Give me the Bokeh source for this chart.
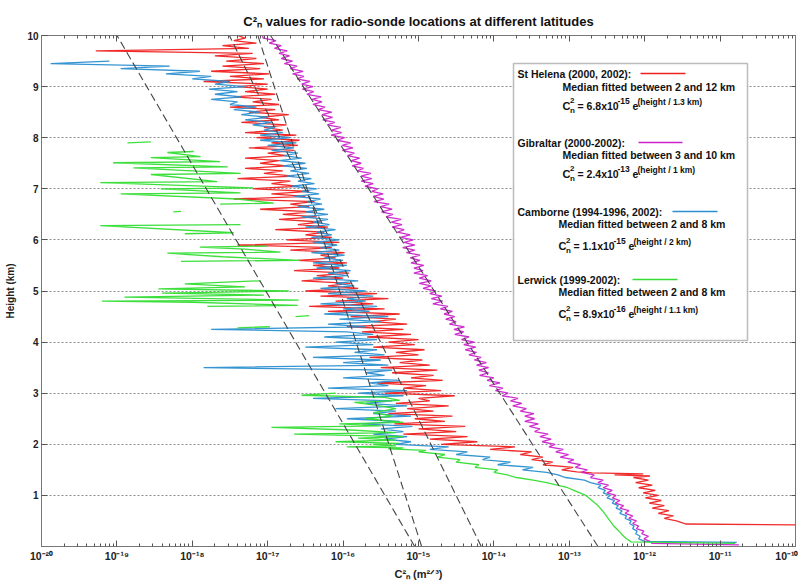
import numpy as np
from bokeh.plotting import figure
from bokeh.models import (Range1d, LogAxis, LinearAxis, FixedTicker,
                          CustomJSTickFormatter, Label, BoxAnnotation)
from bokeh.embed import file_html
from bokeh.resources import INLINE

NaN = float("nan")

# ---------------- data: log10 of Cn^2 (m^-2/3) against height (km) ----------------
# St Helena (red)
red_low_h = [0.42, 0.44, 0.50, 0.55, 0.60, 0.65, 0.70, 0.75, 0.80, 0.85,
             0.90, 0.95, 1.00, 1.05, 1.10, 1.15, 1.20, 1.25, 1.30, 1.35,
             1.38, 1.40, 1.42, 1.44, 1.46, 1.50, 1.55, 1.60, 1.65, 1.70,
             1.75, 1.80, 1.85, 1.90, 1.95]
red_low_L = [-9.8, -11.45, -11.58, -11.74, -11.62, -11.82, -11.68, -11.90, -11.74, -11.94,
             -11.78, -11.99, -11.82, -12.02, -11.86, -12.08, -11.90, -12.12, -11.95, -12.15,
             -11.93, -12.40, -12.02, -12.70, -12.90, -13.10, -12.95, -13.35, -13.22, -13.50,
             -13.35, -13.65, -13.50, -14.05, -13.72]
# heights 2.00 ... 10.00 every 0.05 km
red_up_L = [-14.70, -14.22, -14.85, -14.35, -15.20, -14.50, -15.00, -14.38, -15.32, -14.65,
            -15.05, -14.55, -15.40, -14.80, -15.15, -14.60, -15.30, -14.85, -15.00, -14.52,
            -15.45, -14.70, -15.20, -14.90, -15.55, -14.68, -15.10, -14.80, -15.35, -14.75,
            -15.50, -14.85, -15.25, -14.95, -15.65, -15.00, -15.30, -14.92, -15.60, -15.05,
            -15.40, -15.00, -15.68, -15.10, -15.75, -15.20, -15.95, -15.15, -15.60, -15.30,
            -15.90, -15.25, -16.20, -15.45, -16.45, -15.60, -16.10, -15.40, -16.30, -15.55,
            -16.50, -15.80, -16.20, -15.90, -16.55, -16.00, -16.35, -15.92, -16.65, -16.05,
            -16.40, -15.95, -16.60, -16.10, -16.30, -15.98, -16.70, -16.15, -17.40, -16.05,
            -16.75, -16.15, -16.50, -16.25, -16.90, -16.20, -16.60, -16.30, -16.85, -16.35,
            -16.80, -16.40, -17.10, -16.45, -16.70, -16.38, -17.45, -16.50, -16.95, -16.45,
            -17.20, -16.60, -16.95, -16.70, -17.40, -16.65, -17.05, -16.80, -17.30, -16.75,
            -17.10, -16.85, -17.30, -16.75, -17.00, -16.65, -17.25, -16.60, -16.95, -16.58,
            -17.15, -16.62, -17.30, -16.80, -17.05, -16.75, -17.35, -16.85, -17.10, -16.72,
            -17.25, -16.90, -17.50, -16.85, -17.20, -16.95, -17.45, -16.90, -17.30, -17.00,
            -17.40, -17.00, -17.85, -17.05, -17.50, -16.98, -17.75, -17.10, -17.60, -17.05,
            -17.55, -17.15, -17.70, -17.20, -19.28, -17.25, -17.60, -17.15, -17.45, -17.30,
            -17.40]

# Gibraltar (magenta)
mag_low_h = [0.03, 0.06]
mag_low_L = [-10.75, -11.90]
# heights 0.10 ... 10.00 every 0.05 km
mag_up_L = [-11.93, -12.01, -11.95, -12.04, -12.01, -12.11, -12.08, -12.16, -12.11, -12.21,
            -12.16, -12.26, -12.21, -12.33, -12.28, -12.39, -12.33, -12.43, -12.38, -12.50,
            -12.43, -12.55, -12.48, -12.62, -12.55, -12.72, -12.67, -12.84, -12.76, -12.92,
            -12.85, -13.02, -12.94, -13.12, -13.01, -13.18, -13.08, -13.27, -13.19, -13.36,
            -13.24, -13.39, -13.28, -13.46, -13.39, -13.53, -13.41, -13.59, -13.46, -13.59,
            -13.47, -13.65, -13.57, -13.75, -13.63, -13.78, -13.68, -13.89, -13.81, -13.98,
            -13.88, -14.06, -13.92, -14.09, -14.00, -14.19, -14.07, -14.20, -14.07, -14.23,
            -14.10, -14.26, -14.17, -14.33, -14.23, -14.38, -14.24, -14.40, -14.26, -14.43,
            -14.33, -14.52, -14.40, -14.53, -14.39, -14.59, -14.50, -14.64, -14.52, -14.66,
            -14.55, -14.71, -14.61, -14.81, -14.68, -14.83, -14.69, -14.85, -14.77, -14.94,
            -14.83, -14.99, -14.83, -14.99, -14.88, -15.06, -14.94, -15.06, -14.93, -15.10,
            -14.98, -15.11, -14.98, -15.16, -15.05, -15.21, -15.05, -15.19, -15.07, -15.24,
            -15.11, -15.28, -15.19, -15.35, -15.22, -15.36, -15.23, -15.43, -15.34, -15.49,
            -15.35, -15.50, -15.39, -15.59, -15.46, -15.60, -15.47, -15.62, -15.54, -15.71,
            -15.60, -15.76, -15.62, -15.76, -15.63, -15.81, -15.73, -15.88, -15.76, -15.89,
            -15.78, -15.94, -15.85, -16.01, -15.87, -16.01, -15.90, -16.08, -15.98, -16.16,
            -16.02, -16.15, -16.03, -16.21, -16.11, -16.27, -16.14, -16.28, -16.15, -16.33,
            -16.24, -16.40, -16.28, -16.41, -16.29, -16.48, -16.39, -16.54, -16.40, -16.55,
            -16.44, -16.61, -16.52, -16.67, -16.53, -16.70, -16.61, -16.78, -16.67, -16.82,
            -16.71, -16.85, -16.74, -16.91, -16.82, -16.98, -16.89, -17.06, -17.07]

# Camborne (blue)
blue_low_h = [0.08, 0.10, 0.15, 0.20, 0.25, 0.30, 0.35, 0.40, 0.45, 0.50,
              0.55, 0.60, 0.65, 0.70, 0.75, 0.80, 0.85, 0.90, 0.95, 1.00,
              1.05, 1.10, 1.15, 1.20, 1.25, 1.30, 1.35, 1.40, 1.45, 1.50,
              1.55, 1.60, 1.65, 1.70, 1.75, 1.80, 1.85, 1.90, 1.95]
blue_low_L = [-10.78, -12.00, -12.08, -12.06, -12.12, -12.10, -12.16, -12.14, -12.20, -12.18,
              -12.26, -12.24, -12.33, -12.30, -12.38, -12.35, -12.43, -12.40, -12.50, -12.46,
              -12.55, -12.52, -12.62, -12.58, -12.72, -12.80, -13.05, -13.15, -13.30, -13.62,
              -13.48, -13.95, -13.78, -14.15, -14.05, -14.50, -14.35, -14.85, -14.60]
# heights 2.00 ... 9.50 every 0.05 km
blue_up_L = [-15.30, -15.10, -15.45, -15.15, -15.60, -15.20, -15.50, -15.08, -15.75, -15.25,
             -15.95, -15.10, -15.60, -15.30, -16.10, -15.15, -15.70, -15.35, -16.40, -15.20,
             -15.80, -15.15, -16.20, -15.40, -15.65, -15.25, -16.00, -15.45, -15.70, -15.35,
             -17.85, -15.40, -16.00, -15.50, -16.40, -15.45, -15.85, -15.55, -16.50, -15.60,
             -16.10, -15.55, -16.25, -15.60, -15.95, -17.75, -15.70, -16.20, -15.50, -16.05,
             -15.40, -16.25, -15.65, -16.00, -15.55, -16.30, -15.70, -15.95, -15.60, -16.20,
             -15.70, -16.30, -15.85, -16.10, -15.80, -16.40, -15.95, -16.20, -15.90, -16.35,
             -15.95, -16.40, -16.00, -16.25, -15.98, -16.42, -16.05, -16.30, -16.08, -16.40,
             -16.05, -16.42, -16.15, -16.35, -16.10, -16.50, -16.18, -16.40, -16.20, -16.55,
             -16.20, -16.50, -16.25, -16.60, -16.28, -16.48, -16.30, -16.65, -16.32, -16.55,
             -16.35, -16.68, -16.38, -16.60, -16.42, -16.75, -16.45, -16.70, -16.48, -16.80,
             -16.50, -16.85, -16.55, -16.78, -16.60, -16.95, -16.65, -17.00, -16.62, -17.10,
             -16.70, -17.10, -16.80, -17.05, -16.90, -17.20, -16.95, -17.30, -17.00, -17.35,
             -17.10, -17.45, -17.15, -17.50, -17.40, -17.75, -17.35, -17.70, -17.40, -17.78,
             -17.30, -17.70, -17.50, -18.00, -17.75, -18.35, -17.90, -18.95, -18.30, -19.88,
             -19.10]

# Lerwick (green); NaN marks gaps in the profile
green_h = [0.06, 0.09, 0.15, 0.20, 0.30, 0.40, 0.50, 0.60, 0.70, 0.80,
           0.90, 1.00, 1.05, 1.10, 1.15, 1.20, 1.25, 1.30, 1.35, 1.40,
           1.45, 1.50, 1.55, 1.60, 1.65, 1.70, 1.75, 1.80, 1.85, 1.88,
           1.91, 1.93, 1.95, 1.97, 2.00, 2.02, 2.05, 2.08, 2.12, 2.15,
           2.20, 2.23, 2.28, 2.33, 2.36, 2.40, 2.43, 2.50, 2.55, 2.62,
           2.70, 2.76, 2.82, 2.86, 2.92, 2.96, 3.00,
           NaN, 4.28, 4.30,
           NaN, 4.50, 4.52,
           NaN, 4.70, 4.72, 4.78, 4.80, 4.82, 4.88, 4.92, 4.96, 5.00, 5.04, 5.08, 5.14, 5.20,
           NaN, 5.58, 5.60, 5.67, 5.74, 5.76, 5.82, 5.86, 5.88,
           NaN, 6.12, 6.14, 6.28, 6.30,
           NaN, 6.55, 6.56,
           NaN, 6.70, 6.72, 6.80, 6.90, 6.92, 7.00, 7.02, 7.12, 7.14, 7.28, 7.30, 7.41, 7.43,
           7.51, 7.53, 7.61, 7.63, 7.71, 7.73,
           NaN, 7.90, 7.92]
green_L = [-10.80, -12.18, -12.24, -12.28, -12.34, -12.41, -12.46, -12.51, -12.56, -12.62,
           -12.70, -12.78, -12.86, -12.94, -13.02, -13.16, -13.30, -13.48, -13.70, -13.82,
           -14.00, -13.95, -14.25, -14.20, -14.50, -14.45, -14.75, -14.65, -15.00, -14.90,
           -15.40, -15.20, -15.95, -15.30, -15.60, -15.25, -16.10, -15.30, -15.80, -15.20,
           -16.65, -15.30, -15.90, -16.95, -15.50, -16.05, -15.20, -15.70, -15.35, -15.60,
           -15.30, -15.55, -15.85, -15.25, -15.45, -16.55, -16.10,
           NaN, -17.40, -16.97,
           NaN, -16.63, -16.45,
           NaN, -17.80, -16.60, -18.00, -19.20, -16.59, -18.90, -17.05, -18.40, -16.72, -18.45,
           -17.30, -18.10, -17.10,
           NaN, -18.15, -16.57, -17.60, -18.33, -16.83, -17.30, -17.90, -17.00,
           NaN, -18.10, -17.45, -19.22, -17.36,
           NaN, -18.25, -18.15,
           NaN, -17.63, -16.92, -17.40, -18.95, -17.36, -18.42, -17.19, -19.22, -17.67, -18.55,
           -17.36, -18.78, -17.53, -19.05, -17.63, -18.55, -17.89, -18.33, -17.98,
           NaN, -18.86, -18.55]

# Fitted medians: Cn2 = A * exp(-height / H)
names = ["St Helena (2000, 2002):", "Gibraltar (2000-2002):",
         "Camborne (1994-1996, 2002):", "Lerwick (1999-2002):"]
fit_ranges = ["between 2 and 12 km", "between 3 and 10 km",
              "between 2 and 8 km", "between 2 and 8 km"]
fit_coef = ["6.8", "2.4", "1.1", "8.9"]
fit_exp = ["-15", "-13", "-15", "-16"]
fit_A = [6.8e-15, 2.4e-13, 1.1e-15, 8.9e-16]
fit_H = [1.3, 1.0, 2.0, 1.1]
fit_H_txt = ["1.3", "1", "2", "1.1"]
colors = ["#ee2020", "#cc22cc", "#2a8fd0", "#33dd33"]

x_ticks_exp = list(range(-20, -9))
y_ticks = list(range(1, 11))

title_text = "C\u00b2\u2099 values for radio-sonde locations at different latitudes"
x_label_text = "C\u00b2\u2099 (m\u00b2\u141f\u00b3)"
y_label_text = "Height (km)"

# ---------------- figure ----------------
FONT = "Liberation Sans"


def X(px):  # horizontal pixel of the reference -> data x (annotation placement)
    return 10 ** (-20 + (px - 41) / 75.4)


def Y(py):  # vertical pixel of the reference -> data y
    return (546 - py) / 51.1


p = figure(width=798, height=583, x_axis_type="log",
           x_range=Range1d(1e-20, 1e-10), y_range=Range1d(0, 10),
           output_backend="svg", toolbar_location=None, title=title_text,
           min_border_left=41, min_border_right=3, min_border_top=35,
           min_border_bottom=37)
p.title.align = "center"
p.title.text_font = FONT
p.title.text_font_style = "bold"
p.title.text_font_size = "13px"
p.title.text_color = "#111111"
p.title.standoff = 13
p.outline_line_color = "#777777"
p.background_fill_color = "white"
p.border_fill_color = "white"

major = [10.0 ** e for e in x_ticks_exp]
minor = [k * 10.0 ** e for e in x_ticks_exp[:-1] for k in range(2, 10)]

sup_js = """
const m = {"-":"⁻","0":"⁰","1":"¹","2":"²","3":"³","4":"⁴","5":"⁵","6":"⁶","7":"⁷","8":"⁸","9":"⁹"};
const e = Math.round(Math.log10(tick));
let s = "";
for (const c of String(e)) { s += m[c]; }
return "10" + s;
"""


def style_axis(ax, labels=True):
    ax.axis_line_color = "#777777"
    ax.major_tick_line_color = "#555555"
    ax.minor_tick_line_color = "#555555"
    ax.major_tick_in = 6
    ax.major_tick_out = 0
    ax.minor_tick_in = 3
    ax.minor_tick_out = 0
    ax.major_label_text_font = FONT
    ax.major_label_text_font_style = "bold"
    ax.major_label_text_font_size = "10px" if labels else "0px"
    ax.major_label_text_color = "#222222"
    ax.major_label_standoff = 3 if labels else 0
    ax.axis_label_text_font = FONT
    ax.axis_label_text_font_style = "bold"
    ax.axis_label_text_color = "#222222"


xa = p.xaxis[0]
xa.ticker = FixedTicker(ticks=major, minor_ticks=minor)
xa.formatter = CustomJSTickFormatter(code=sup_js)
style_axis(xa)
xa.major_label_text_font_size = "10.5px"
xa.axis_label = x_label_text
xa.axis_label_text_font_size = "11px"
xa.axis_label_standoff = 3

ya = p.yaxis[0]
ya.ticker = FixedTicker(ticks=y_ticks)
style_axis(ya)
ya.axis_label = y_label_text
ya.axis_label_text_font_size = "10px"
ya.axis_label_standoff = 8

top = LogAxis(ticker=FixedTicker(ticks=major, minor_ticks=minor),
              formatter=CustomJSTickFormatter(code="return '';"))
style_axis(top, labels=False)
p.add_layout(top, "above")

right = LinearAxis(ticker=FixedTicker(ticks=y_ticks[:-1]),
                   formatter=CustomJSTickFormatter(code="return '';"))
style_axis(right, labels=False)
right.major_tick_in = 4
p.add_layout(right, "right")

p.xgrid.visible = False
p.ygrid.ticker = FixedTicker(ticks=y_ticks[:-1])
p.ygrid.grid_line_color = "#8a8a8a"
p.ygrid.grid_line_dash = "2 2"
p.ygrid.grid_line_width = 1

# ---------------- profiles ----------------
red_h = red_low_h + [round(2.0 + 0.05 * i, 2) for i in range(len(red_up_L))]
red_L = red_low_L + red_up_L
mag_h = mag_low_h + [round(0.1 + 0.05 * i, 2) for i in range(len(mag_up_L))]
mag_L = mag_low_L + mag_up_L
blue_h = blue_low_h + [round(2.0 + 0.05 * i, 2) for i in range(len(blue_up_L))]
blue_L = blue_low_L + blue_up_L

series = [(red_h, red_L), (mag_h, mag_L), (blue_h, blue_L), (green_h, green_L)]
for (hh, LL), c in zip(series, colors):
    p.line(10.0 ** np.array(LL, dtype=float), np.array(hh, dtype=float),
           line_color=c, line_width=1.3, line_alpha=0.95)

# fitted lines (dashed)
for A, H in zip(fit_A, fit_H):
    hh = np.array([0.0, 10.0])
    p.line(A * np.exp(-hh / H), hh, line_color="#454545", line_width=1.1,
           line_dash="8 4")

# ---------------- legend box ----------------
p.add_layout(BoxAnnotation(left=X(513), right=X(747), top=Y(63), bottom=Y(340),
                           fill_color="white", fill_alpha=1.0,
                           line_color="#222222", line_width=1.5))


def lab(px, py, text, size, baseline="middle"):
    p.add_layout(Label(x=X(px), y=Y(py), text=text, text_font=FONT,
                       text_font_style="bold", text_font_size=size,
                       text_color="#111111", text_align="left",
                       text_baseline=baseline))


head_y = [73, 142, 211, 279]
med_y = [86, 154, 223, 291]
form_y = [105, 173, 245, 313]
med_x = [562, 562, 558, 558]
seg_x = [(640, 685), (638, 682), (672, 717), (632, 677)]

for i in range(4):
    lab(517, head_y[i], names[i], "10.5px")
    lab(med_x[i], med_y[i], "Median fitted  " + fit_ranges[i], "10.5px")
    xc = med_x[i]
    yf = form_y[i]
    lab(xc, yf, "C", "11px")
    lab(xc + 7.5, yf - 5, "2", "8px")
    lab(xc + 7.5, yf + 5, "n", "8px")
    lab(xc + 15, yf, "= " + fit_coef[i] + "x10", "10.5px")
    lab(xc + 55, yf - 5, fit_exp[i], "8.5px")
    lab(xc + 70, yf, "e", "10.5px")
    lab(xc + 75, yf - 4, "(height / " + fit_H_txt[i] + " km)", "8.5px")

p.segment(x0=[X(a) for a, b in seg_x], x1=[X(b) for a, b in seg_x],
          y0=[Y(v) for v in head_y], y1=[Y(v) for v in head_y],
          line_color=colors, line_width=1.6, level="overlay")

open("out.html", "w").write(file_html(p, INLINE))
